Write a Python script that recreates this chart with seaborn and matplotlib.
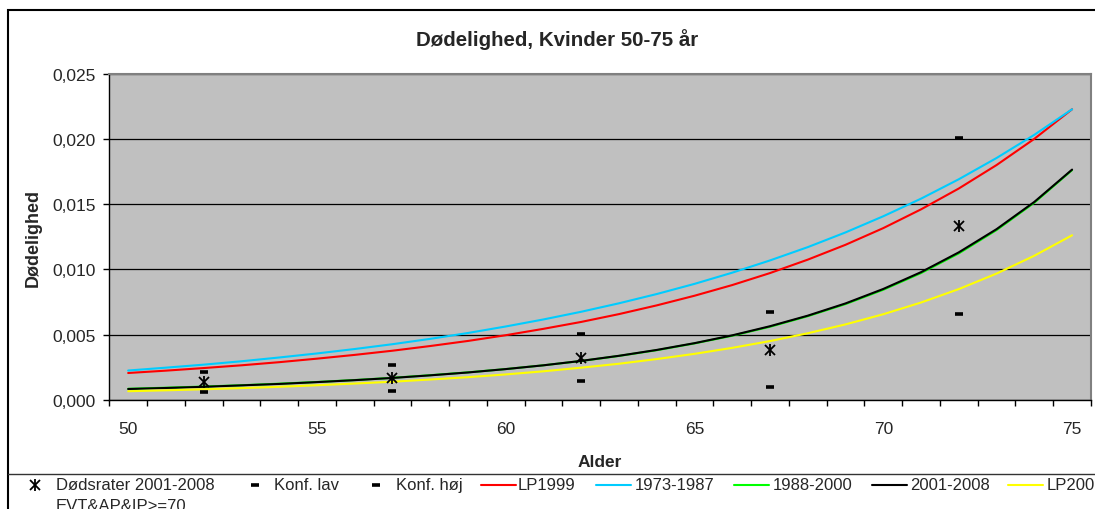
import numpy as np
import pandas as pd
import matplotlib
matplotlib.use("Agg")
import matplotlib.pyplot as plt
from matplotlib.patches import Rectangle
from matplotlib.lines import Line2D
from matplotlib.ticker import FuncFormatter, MultipleLocator
import seaborn as sns

# data
alder = list(range(50, 76))

lp1999 = [0.00205, 0.00223, 0.00243, 0.00264, 0.00288, 0.00315, 0.00344, 0.00376,
          0.00412, 0.00451, 0.00495, 0.00544, 0.00597, 0.00657, 0.00724, 0.00798,
          0.00880, 0.00972, 0.01075, 0.01189, 0.01317, 0.01461, 0.01621, 0.01801,
          0.02002, 0.02229]
p1973_1987 = [0.00224, 0.00246, 0.00269, 0.00295, 0.00324, 0.00355, 0.00389, 0.00426,
              0.00467, 0.00512, 0.00562, 0.00616, 0.00675, 0.00740, 0.00811, 0.00889,
              0.00975, 0.01069, 0.01171, 0.01284, 0.01408, 0.01543, 0.01692, 0.01855,
              0.02033, 0.02229]
p1988_2000 = [0.00084, 0.00092, 0.00101, 0.00111, 0.00123, 0.00136, 0.00151, 0.00168,
              0.00188, 0.00210, 0.00235, 0.00264, 0.00297, 0.00336, 0.00380, 0.00432,
              0.00491, 0.00560, 0.00641, 0.00734, 0.00844, 0.00972, 0.01123, 0.01302,
              0.01512, 0.01762]
p2001_2008 = [0.00082, 0.00090, 0.00099, 0.00110, 0.00121, 0.00135, 0.00150, 0.00167,
              0.00187, 0.00209, 0.00235, 0.00264, 0.00298, 0.00337, 0.00382, 0.00434,
              0.00494, 0.00564, 0.00645, 0.00739, 0.00850, 0.00979, 0.01131, 0.01309,
              0.01518, 0.01766]
lp2008 = [0.00065, 0.00072, 0.00080, 0.00089, 0.00099, 0.00111, 0.00124, 0.00138,
          0.00155, 0.00173, 0.00194, 0.00218, 0.00246, 0.00276, 0.00312, 0.00352,
          0.00398, 0.00450, 0.00510, 0.00578, 0.00656, 0.00746, 0.00849, 0.00968,
          0.01105, 0.01262]

punkt_alder = [52, 57, 62, 67, 72]
dodsrater = [0.00134, 0.00164, 0.00318, 0.00384, 0.01336]
konf_lav = [0.00057, 0.00064, 0.00141, 0.00100, 0.00658]
konf_hoj = [0.00210, 0.00269, 0.00504, 0.00675, 0.02009]

serier = ["LP1999", "1973-1987", "1988-2000", "2001-2008", "LP2008"]
farver = ["#FF0000", "#00CCFF", "#00FF00", "#000000", "#FFFF00"]

df = pd.DataFrame({
    "alder": alder * 5,
    "rate": lp1999 + p1973_1987 + p1988_2000 + p2001_2008 + lp2008,
    "serie": np.repeat(serier, len(alder)),
})

sns.set_style("ticks")
plt.rcParams['font.family'] = ['Liberation Sans', 'DejaVu Sans']

W, H = 1095, 510
fig = plt.figure(figsize=(10.95, 5.10), dpi=100)
ax = fig.add_axes([0.0998, 0.2143, 0.8965, 0.6387])
ax.set_facecolor("#C0C0C0")

sns.lineplot(data=df, x="alder", y="rate", hue="serie", hue_order=serier,
             palette=farver, linewidth=1.5, ax=ax, legend=False)

star = dict(linestyle="none", color="black", zorder=5, markeredgewidth=1.3)
ax.plot(punkt_alder, dodsrater, marker="x", markersize=7, **star)
ax.plot(punkt_alder, dodsrater, marker="|", markersize=9, **star)
dash = dict(linestyle="none", marker="_", markersize=6, markeredgewidth=2.6,
            color="black", zorder=5)
ax.plot(punkt_alder, konf_lav, **dash)
ax.plot(punkt_alder, konf_hoj, **dash)

ax.set_xlim(49.5, 75.5)
ax.set_ylim(0, 0.025)
ax.xaxis.set_major_locator(MultipleLocator(5))
ax.xaxis.set_minor_locator(MultipleLocator(1, offset=0.5))
ax.tick_params(axis="x", which="major", length=0, pad=15, labelsize=12.5)
ax.tick_params(axis="x", which="minor", length=4, width=1, color="black")
ax.yaxis.set_major_locator(MultipleLocator(0.005))
ax.yaxis.set_major_formatter(FuncFormatter(lambda v, p: f"{v:.3f}".replace(".", ",")))
ax.tick_params(axis="y", length=4, width=1, pad=6, labelsize=12.5, color="black")
ax.grid(axis="y", color="black", linewidth=0.9)
ax.set_axisbelow(True)

for s in ["left", "bottom"]:
    ax.spines[s].set_color("black")
    ax.spines[s].set_linewidth(1)
for s in ["top", "right"]:
    ax.spines[s].set_color("#808080")
    ax.spines[s].set_linewidth(1.5)

ax.set_xlabel("Alder", fontsize=12.5, fontweight="bold", labelpad=13)
ax.set_ylabel("Dødelighed", fontsize=13, fontweight="bold", labelpad=7)
fig.text(556.7 / W, 1 - 40 / H, "Dødelighed, Kvinder 50-75 år",
         ha="center", va="center", fontsize=14.8, fontweight="bold")

# outer chart border and legend separator
fig.add_artist(Rectangle((8 / W, -0.1), 1.2, 1 - 11 / H + 0.1,
                         transform=fig.transFigure, fill=False,
                         edgecolor="black", linewidth=1.5))
fig.add_artist(Line2D([8 / W, 1.0], [1 - 475 / H] * 2,
                      transform=fig.transFigure, color="#333333", linewidth=1))

# legend laid out like the Excel one (handle start / text start in pixels)
leg_y = 1 - 486 / H
leg_handle = [17.5, 237.5, 358, 481, 596, 733.5, 871.5, 1008]
leg_text = [56, 274, 396.5, 517.5, 634.5, 773, 910, 1046.5]
leg_txt = ["Dødsrater 2001-2008", "Konf. lav", "Konf. høj"] + serier
for i, (x0, xt, txt) in enumerate(zip(leg_handle, leg_text, leg_txt)):
    xc = (x0 + 17.5) / W
    if i == 0:
        fig.add_artist(Line2D([xc], [leg_y], marker="x", markersize=7, **star))
        fig.add_artist(Line2D([xc], [leg_y], marker="|", markersize=9, **star))
    elif i < 3:
        fig.add_artist(Line2D([xc], [leg_y], **dash))
    else:
        fig.add_artist(Line2D([x0 / W, (x0 + 35) / W], [leg_y, leg_y],
                              color=farver[i - 3], linewidth=1.5))
    fig.text(xt / W, leg_y, txt, ha="left", va="center", fontsize=12)
fig.text(56 / W, 1 - 507 / H, "EVT&AP&IP>=70", ha="left", va="center",
         fontsize=12)

fig.savefig("out.png", dpi=100)
